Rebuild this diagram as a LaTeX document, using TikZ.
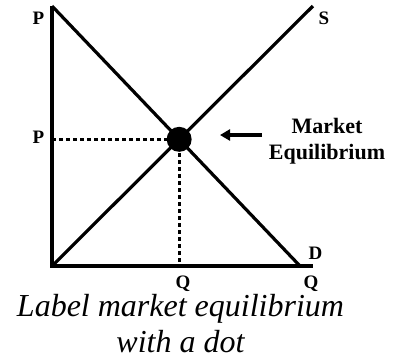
\documentclass[tikz,border=0pt]{standalone}
\usepackage{fontspec}
\setmainfont{Liberation Serif}
\usetikzlibrary{arrows.meta}
\tikzset{
  axisline/.style={line width=4pt,line join=miter},
  curveline/.style={line width=3.2pt},
  guideline/.style={line width=3pt,dash pattern=on 4pt off 3pt},
  axislabel/.style={font=\fontsize{19}{21}\selectfont\bfseries,anchor=base,inner sep=0pt},
  pointer/.style={line width=3.5pt,-{Triangle[length=10pt,width=11pt]}},
}
\begin{document}
\begin{tikzpicture}[x=1pt,y=-1pt]
  \useasboundingbox (0,0) rectangle (397,360);
  % axes and curves
  \coordinate (origin) at (52,266);
  \coordinate (ptop) at (52,6);
  \coordinate (qend) at (313,266);
  \coordinate (dend) at (300,266);
  \coordinate (send) at (313,6);
  \coordinate (eq) at (intersection of ptop--dend and origin--send);
  \coordinate (peq) at (origin |- eq);
  \coordinate (qeq) at (eq |- origin);
  \draw[guideline] (peq) -- (eq);
  \draw[guideline] (eq) -- (qeq);
  \draw[curveline] (ptop) -- (dend);
  \draw[curveline] (origin) -- (send);
  \draw[axisline] (ptop) -- (origin) -- (qend);
  \fill (eq) circle (12.5);
  % labels
  \node[axislabel] (ptoplabel) at (38.5,24) {P};
  \node[axislabel] (peqlabel) at (38.5,143) {P};
  \node[axislabel] (slabel) at (324,24) {S};
  \node[axislabel] (dlabel) at (315.5,259) {D};
  \node[axislabel] (qeqlabel) at (183,288) {Q};
  \node[axislabel] (qendlabel) at (311,288) {Q};
  \node[font=\fontsize{22}{26}\selectfont\bfseries,align=center,inner sep=0pt]
    (eqlabel) at (327,141) {Market\\Equilibrium};
  \coordinate (arrtail) at (262,135);
  \coordinate (arrhead) at (220,135);
  \draw[pointer] (arrtail) -- (arrhead);
  % caption
  \node[font=\fontsize{32}{36}\selectfont\itshape,align=center,inner sep=0pt]
    (caption) at (180.5,324) {Label market equilibrium\\with a dot};
\end{tikzpicture}
\end{document}
